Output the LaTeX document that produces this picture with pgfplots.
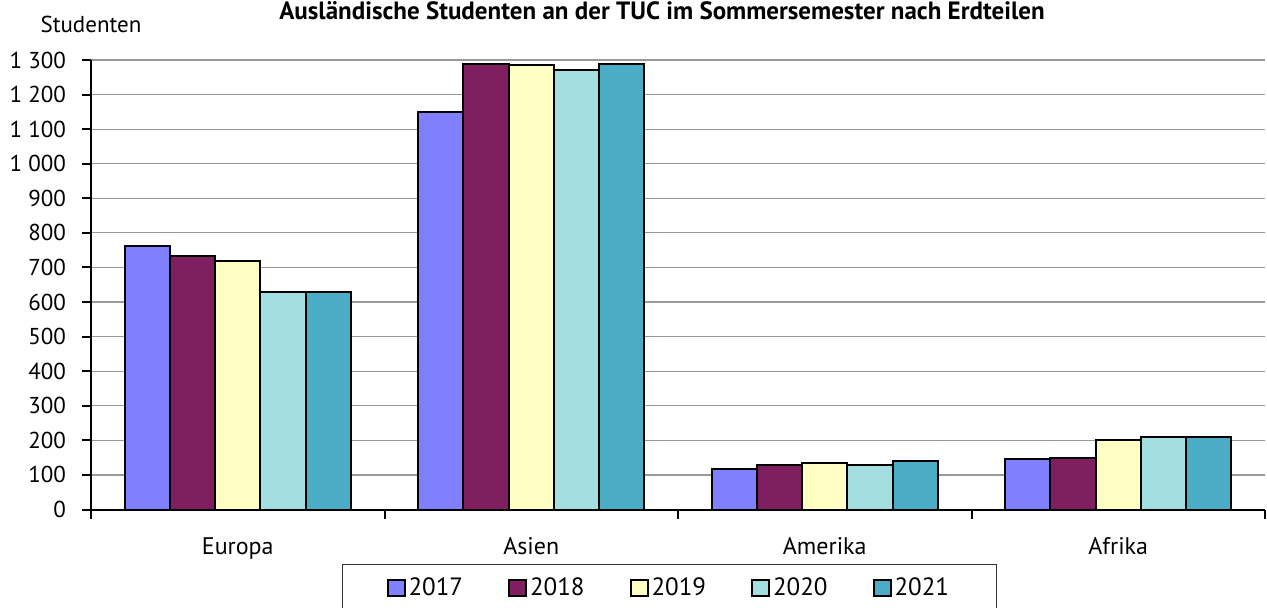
\documentclass[border=0pt]{standalone}
\usepackage{fontspec}
\setmainfont{PT Sans}
\usepackage{pgfplots}
\pgfplotsset{compat=1.18}
\definecolor{c17}{HTML}{8080FF}
\definecolor{c18}{HTML}{7F1F5F}
\definecolor{c19}{HTML}{FFFFC4}
\definecolor{c20}{HTML}{A3DFE0}
\definecolor{c21}{HTML}{4BACC6}
\begin{document}
\begin{tikzpicture}
\useasboundingbox (0,0) rectangle (633.5pt,303.5pt);
\begin{axis}[
  at={(45.5pt,48.75pt)}, anchor=south west,
  scale only axis, width=587pt, height=224.75pt,
  ybar=0pt, bar width=0.1542,
  xmin=0.5, xmax=4.5, ymin=0, ymax=1300,
  xtick={1,2,3,4}, xticklabels={Europa,Asien,Amerika,Afrika},
  minor xtick={0.5,1.5,2.5,3.5,4.5},
  ytick={0,100,...,1300},
  axis x line*=bottom, axis y line*=left,
  axis line style={line width=1pt,-},
  ymajorgrids, grid style={color=black!40, line width=0.6pt},
  tick align=outside, major tick length=4.5pt, minor tick length=4.5pt,
  major x tick style={draw=none},
  minor x tick style={black, line width=1pt},
  y tick style={black, line width=1pt},
  yticklabel style={font=\fontsize{11.5}{13}\selectfont, xshift=-4.5pt, /pgf/number format/assume math mode=true, /pgf/number format/1000 sep={\ }},
  xticklabel style={font=\fontsize{12}{14}\selectfont, yshift=-6pt},
  title={\bfseries Ausländische Studenten an der TUC im Sommersemester nach Erdteilen},
  title style={at={(axis description cs:0.4864,1.089)}, anchor=base, yshift=-6pt, font=\fontsize{12.5}{14}\selectfont},
  ylabel={Studenten},
  ylabel style={at={(axis description cs:0,1.078)}, rotate=-90, anchor=center, font=\fontsize{11.5}{13}\selectfont},
  legend columns=5,
  legend style={at={(0.2138,-0.1212)}, anchor=north west, draw=black!80, line width=0.6pt,
    inner xsep=22pt, inner ysep=5pt, font=\fontsize{12.5}{14}\selectfont,
    nodes={inner sep=1.5pt},
    /tikz/every even column/.append style={column sep=21pt}},
  every axis plot/.append style={draw=black, line width=1pt,
    legend image code/.code={\draw[##1, draw=black, line width=1pt] (0pt,-4pt) rectangle (8.5pt,4pt);}},
]
\addplot[fill=c17] coordinates {(1,762) (2,1151) (3,116) (4,146)};
\addplot[fill=c18] coordinates {(1,733) (2,1288) (3,128) (4,148)};
\addplot[fill=c19] coordinates {(1,718) (2,1285) (3,134) (4,201)};
\addplot[fill=c20] coordinates {(1,628) (2,1271) (3,129) (4,210)};
\addplot[fill=c21] coordinates {(1,628) (2,1289) (3,141) (4,210)};
\legend{2017,2018,2019,2020,2021}
\end{axis}
\end{tikzpicture}
\end{document}
